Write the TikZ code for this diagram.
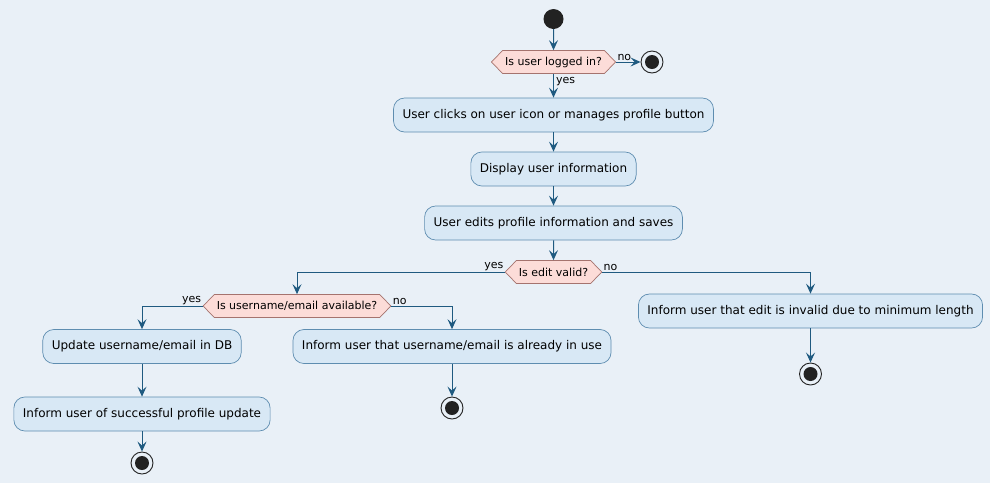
\documentclass[tikz,border=0pt]{standalone}
\usepackage{fontspec}
\setmainfont{DejaVu Sans}
\usetikzlibrary{arrows.meta,shapes.symbols}
\definecolor{bg}{HTML}{E9F0F7}
\definecolor{actfill}{HTML}{D8E8F5}
\definecolor{actdraw}{HTML}{5E8DB0}
\definecolor{decfill}{HTML}{FCDCD8}
\definecolor{decdraw}{HTML}{A5736E}
\definecolor{arrc}{HTML}{1F5A80}
\definecolor{dark}{HTML}{222222}
\tikzset{
  act/.style={draw=actdraw, fill=actfill, rounded corners=11pt, line width=0.7pt,
    minimum height=34pt, inner xsep=9pt, inner ysep=0pt, font=\fontsize{12pt}{14pt}\selectfont},
  dec/.style={draw=decdraw, fill=decfill, line width=0.7pt, shape=signal, signal to=east and west,
    signal pointer angle=92, minimum height=23pt, inner xsep=2.5pt, inner ysep=0pt,
    font=\fontsize{11pt}{13pt}\selectfont},
  startnode/.style={circle, fill=dark, minimum size=20pt, inner sep=0pt},
  endnode/.style={circle, draw=dark, line width=0.9pt, fill=bg, minimum size=22pt, inner sep=0pt,
    path picture={\fill[dark] (path picture bounding box.center) circle (7pt);}},
  arr/.style={draw=arrc, line width=1pt, -{Stealth[length=10pt,width=9pt,inset=4pt]}},
  lbl/.style={font=\fontsize{11pt}{13pt}\selectfont, inner sep=1pt}
}
\begin{document}
\begin{tikzpicture}[x=1pt,y=-1pt]
\fill[bg] (0,0) rectangle (990,483);
\useasboundingbox (0,0) rectangle (990,483);
\node[startnode] (s) at (553.5,19) {};
\node[dec] (d1) at (553.5,62) {Is user logged in?};
\node[endnode] (e1) at (652,62) {};
\node[act] (b1) at (553.5,115) {User clicks on user icon or manages profile button};
\node[act] (b2) at (553.5,169) {Display user information};
\node[act] (b3) at (553.5,223) {User edits profile information and saves};
\node[dec] (d2) at (553.5,272) {Is edit valid?};
\node[dec] (d3) at (297,306) {Is username/email available?};
\node[act] (b4) at (142,346.5) {Update username/email in DB};
\node[act] (b5) at (452,346.5) {Inform user that username/email is already in use};
\node[act] (b6) at (142,414) {Inform user of successful profile update};
\node[endnode] (e2) at (142,463) {};
\node[endnode] (e3) at (452,408) {};
\node[act] (b7) at (810.5,311) {Inform user that edit is invalid due to minimum length};
\node[endnode] (e4) at (810.5,374) {};

\draw[arr] (s) -- (d1);
\draw[arr] (d1.east) -- (e1) node[lbl, pos=0, anchor=south west] {no};
\draw[arr] (d1.south) -- (b1) node[lbl, pos=0.1, anchor=north west, xshift=1pt] {yes};
\draw[arr] (b1) -- (b2);
\draw[arr] (b2) -- (b3);
\draw[arr] (b3) -- (d2);
\draw[arr] (d2.west) -| (d3.north) node[lbl, pos=0, anchor=south east] {yes};
\draw[arr] (d2.east) -| (b7.north) node[lbl, pos=0, anchor=south west] {no};
\draw[arr] (d3.west) -| (b4.north) node[lbl, pos=0, anchor=south east] {yes};
\draw[arr] (d3.east) -| (b5.north) node[lbl, pos=0, anchor=south west] {no};
\draw[arr] (b4) -- (b6);
\draw[arr] (b6) -- (e2);
\draw[arr] (b5) -- (e3);
\draw[arr] (b7) -- (e4);
\end{tikzpicture}
\end{document}
